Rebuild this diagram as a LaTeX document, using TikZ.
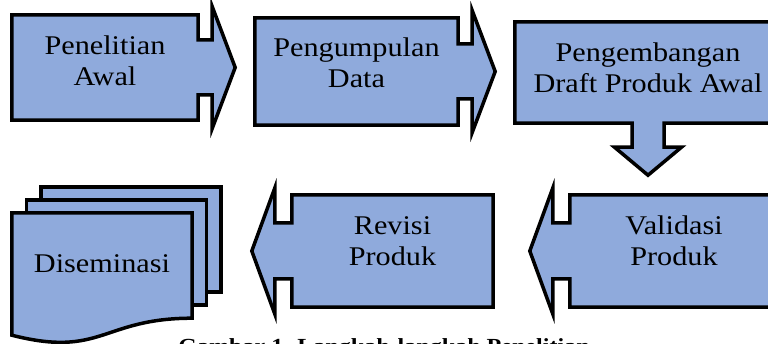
\documentclass[tikz,border=0pt]{standalone}
\usepackage{fontspec}
\setmainfont[FakeStretch=1.12]{Liberation Serif}
\usetikzlibrary{calc,backgrounds}
\definecolor{boxblue}{RGB}{143,170,220}

% callout outlines drawn round a body node
\newcommand{\rightcallout}[1]{%
  \draw [callout] (#1.north west) -- (#1.north east) -- ($(#1.east)+(0,-27.5)$)
    -- ++(14,0) -- ($(#1.east)+(14,-61)$) -- ($(#1.east)+(37,0)$)
    -- ($(#1.east)+(14,61)$) -- ($(#1.east)+(14,27.5)$) -- ($(#1.east)+(0,27.5)$)
    -- (#1.south east) -- (#1.south west) -- cycle;}
\newcommand{\leftcallout}[1]{%
  \draw [callout] (#1.north east) -- (#1.north west) -- ($(#1.west)+(0,-28)$)
    -- ++(-17,0) -- ($(#1.west)+(-17,-63)$) -- ($(#1.west)+(-40,0)$)
    -- ($(#1.west)+(-17,63)$) -- ($(#1.west)+(-17,28)$) -- ($(#1.west)+(0,28)$)
    -- (#1.south west) -- (#1.south east) -- cycle;}
\newcommand{\downcallout}[1]{%
  \draw [callout] (#1.north west) -- (#1.north east) -- (#1.south east)
    -- ($(#1.south)+(16,0)$) -- ++(0,24) -- ($(#1.south)+(33.5,24)$)
    -- ($(#1.south)+(0,52)$) -- ($(#1.south)+(-33.5,24)$) -- ($(#1.south)+(-16,24)$)
    -- ($(#1.south)+(-16,0)$) -- (#1.south west) -- cycle;}

\begin{document}
\begin{tikzpicture}[x=1pt,y=-1pt,
  callout/.style={draw=black,line width=3.5pt,fill=boxblue},
  bodybox/.style={rectangle,inner sep=0pt},
  boxtext/.style={inner sep=0pt,align=center,font=\fontsize{27}{31}\selectfont}]
\useasboundingbox (0,0) rectangle (768,344);

% bodies of the shapes
\path (105,67.5)   node [bodybox,minimum width=186pt,minimum height=105pt] (awal)   {};
\path (356.5,71.5) node [bodybox,minimum width=203pt,minimum height=107pt] (data)   {};
\path (648,72.5)   node [bodybox,minimum width=266pt,minimum height=101pt] (draft)  {};
\path (674,251)    node [bodybox,minimum width=208pt,minimum height=112pt] (valid)  {};
\path (392.5,251)  node [bodybox,minimum width=201pt,minimum height=112pt] (revisi) {};
\path (102,265.5)  node [bodybox,minimum width=180pt,minimum height=105pt] (dis)    {};

% texts
\path (awal)   ++(0,-7)  node [boxtext] (awal-t)   {Penelitian\\Awal};
\path (data)   ++(0,-9)  node [boxtext] (data-t)   {Pengumpulan\\Data};
\path (draft)  ++(0,-5)  node [boxtext] (draft-t)  {Pengembangan\\Draft Produk Awal};
\path (valid)  ++(0,-10) node [boxtext] (valid-t)  {Validasi\\Produk};
\path (revisi) ++(0,-10) node [boxtext] (revisi-t) {Revisi\\Produk};
\path (dis)    ++(0,-2)  node [boxtext] (dis-t)    {Diseminasi};

\begin{scope}[on background layer]
\rightcallout{awal}
\rightcallout{data}
\downcallout{draft}
\leftcallout{valid}
\leftcallout{revisi}
% stacked documents
\foreach \d in {2,1}
  \draw [callout] ($(dis.north west)+(\d*14.5,-\d*13)$) rectangle ($(dis.south east)+(\d*14.5,-\d*13)$);
\draw [callout] (dis.north west) -- (dis.north east) -- (dis.south east)
  .. controls (dis.south) and ($(dis.south)+(0,40)$) .. ($(dis.south west)+(0,17)$) -- cycle;
\end{scope}

\path (384,338) node [anchor=north,inner sep=0pt,font=\bfseries\fontsize{21.5}{26}\selectfont] (caption)
  {Gambar 1. Langkah-langkah Penelitian};
\end{tikzpicture}
\end{document}
